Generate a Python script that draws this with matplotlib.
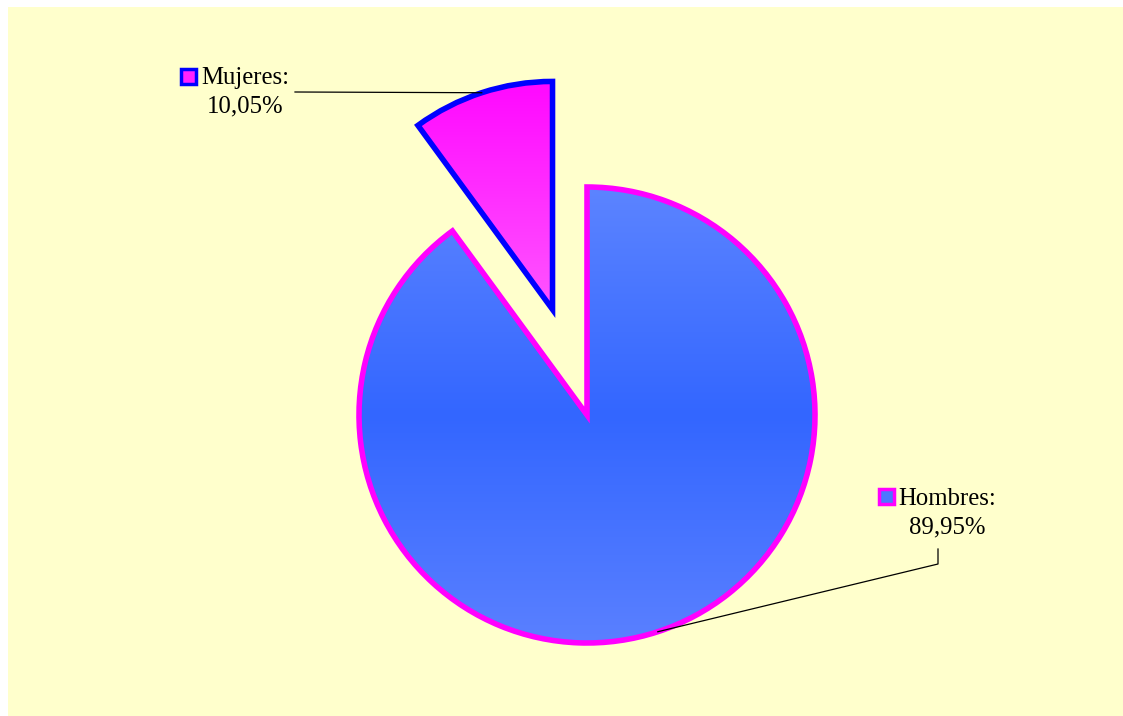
import matplotlib
matplotlib.use('Agg')
import matplotlib.pyplot as plt
from matplotlib.patches import Rectangle
from matplotlib.colors import LinearSegmentedColormap
import numpy as np

# datos
categorias = ['Mujeres', 'Hombres']
porcentajes = [10.05, 89.95]
etiquetas = ['Mujeres:\n10,05%', 'Hombres:\n89,95%']

W, H = 1123, 716
FONDO = '#FFFFCC'

fig = plt.figure(figsize=(W / 100, H / 100), dpi=100)
fig.patch.set_facecolor('white')
ax = fig.add_axes([0, 0, 1, 1])

# area amarilla del grafico
ax.add_patch(Rectangle((8, 0), W - 8, H - 7, facecolor=FONDO, edgecolor='none', zorder=0))

centro = (587, 301)
radio = 228
# en pie() el desplazamiento va en unidades de datos
explode = [0.487 * radio, 0]
bordes = ['#0000FF', '#FF00FF']

wedges, _ = ax.pie(porcentajes, explode=explode, startangle=90, counterclock=True,
                   center=centro, radius=radio, colors=['#FF22FF', '#3F6EFF'],
                   wedgeprops=dict(linewidth=4, joinstyle='miter'), frame=True)
ax.set_xlim(0, W)
ax.set_ylim(0, H)
ax.set_aspect('equal')
ax.axis('off')

# degradados (vertical)
grad_muj = LinearSegmentedColormap.from_list('muj', ['#FF55FF', '#FF08FF'])
grad_hom = LinearSegmentedColormap.from_list('hom', ['#5A80FF', '#3366FF', '#5C84FF'])
for w, cmap, borde in zip(wedges, [grad_muj, grad_hom], bordes):
    cx, cy = w.center
    ext = (cx - radio, cx + radio, cy - radio, cy + radio)
    img = np.linspace(0, 1, 256).reshape(-1, 1)
    if cmap is grad_muj:
        ext = (cx - radio, cx + radio, cy, cy + radio)
    im = ax.imshow(img, cmap=cmap, extent=ext, origin='lower', aspect='auto', zorder=1)
    im.set_clip_path(w)
    w.set_facecolor('none')
    w.set_edgecolor(borde)
    w.set_zorder(2)
ax.set_xlim(0, W)
ax.set_ylim(0, H)

fuente = dict(family='Liberation Serif', fontsize=17.8, color='black')

# Mujeres: etiqueta arriba a la izquierda
w = wedges[0]
ang = np.deg2rad((w.theta1 + w.theta2) / 2)
px = w.center[0] + radio * np.cos(ang)
py = w.center[1] + radio * np.sin(ang)
ax.plot([295, px], [H - 92, py], color='black', lw=0.9, zorder=3)
ax.text(245, H - 92, etiquetas[0], ha='center', va='center', linespacing=1.4, **fuente)
ax.add_patch(Rectangle((181, H - 84), 15, 15, facecolor='#FF22FF', edgecolor='#0000FF',
                       lw=2.5, zorder=3))

# Hombres: etiqueta abajo a la derecha
w = wedges[1]
ang = np.deg2rad((w.theta1 + w.theta2) / 2)
px = w.center[0] + radio * np.cos(ang)
py = w.center[1] + radio * np.sin(ang)
ax.plot([938, 938, px], [H - 549, H - 564, py], color='black', lw=0.9, zorder=3)
ax.text(947, H - 513, etiquetas[1], ha='center', va='center', linespacing=1.4, **fuente)
ax.add_patch(Rectangle((879, H - 504), 15, 15, facecolor='#4A78FF', edgecolor='#FF00FF',
                       lw=2.5, zorder=3))

fig.savefig('out.png', dpi=100, facecolor=fig.get_facecolor())
